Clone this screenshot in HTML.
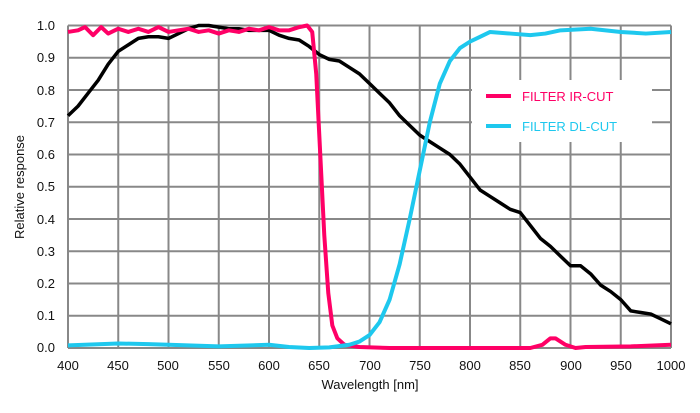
<!DOCTYPE html>
<html><head><meta charset="utf-8"><style>body{margin:0;background:#fff}svg{display:block;font-family:"Liberation Sans",Arial,sans-serif}</style></head><body>
<svg width="700" height="413" viewBox="0 0 700 413">
<rect width="700" height="413" fill="#fff"/>
<g stroke="#888" stroke-width="2" fill="none">
<path d="M68 25.5H671M68 57.75H671M68 90H671M68 122.25H671M68 154.5H671M68 186.75H671M68 219H671M68 251.25H671M68 283.5H671M68 315.75H671M68 348H671"/>
<path d="M68 25.5V348M118.25 25.5V348M168.5 25.5V348M218.75 25.5V348M269 25.5V348M319.25 25.5V348M369.5 25.5V348M419.75 25.5V348M470 25.5V348M520.25 25.5V348M570.5 25.5V348M620.75 25.5V348M671 25.5V348"/>
</g>
<g font-size="13" fill="#111" text-anchor="end">
<text x="55" y="30">1.0</text><text x="55" y="62">0.9</text><text x="55" y="95">0.8</text><text x="55" y="127">0.7</text><text x="55" y="159">0.6</text><text x="55" y="191">0.5</text><text x="55" y="224">0.4</text><text x="55" y="256">0.3</text><text x="55" y="288">0.2</text><text x="55" y="320">0.1</text><text x="55" y="352">0.0</text>
</g>
<g font-size="13" fill="#111" text-anchor="middle">
<text x="68" y="370">400</text><text x="118" y="370">450</text><text x="168" y="370">500</text><text x="219" y="370">550</text><text x="269" y="370">600</text><text x="319" y="370">650</text><text x="370" y="370">700</text><text x="420" y="370">750</text><text x="470" y="370">800</text><text x="520" y="370">850</text><text x="571" y="370">900</text><text x="621" y="370">950</text><text x="671" y="370">1000</text>
</g>
<text x="370" y="389" font-size="13" text-anchor="middle" fill="#111">Wavelength [nm]</text>
<text transform="translate(24 187) rotate(-90)" font-size="13" text-anchor="middle" fill="#111">Relative response</text>
<g transform="matrix(1.005 0 0 -322.5 -334 348)" fill="none" stroke-linejoin="round">
<polyline vector-effect="non-scaling-stroke" stroke="#000" stroke-width="3.5" points="400,.72 410,.75 420,.79 430,.83 440,.88 450,.92 460,.94 470,.96 480,.965 490,.965 500,.96 510,.975 520,.99 530,1 540,1 550,.995 560,.99 570,.99 580,.985 590,.985 600,.985 610,.97 620,.96 630,.955 640,.935 650,.91 660,.895 670,.89 680,.87 690,.85 700,.82 710,.79 720,.76 730,.72 740,.69 750,.66 760,.64 770,.62 780,.6 790,.57 800,.53 810,.49 820,.47 830,.45 840,.43 850,.42 860,.38 870,.34 880,.315 890,.285 900,.255 910,.255 920,.23 930,.195 940,.175 950,.15 960,.115 970,.11 980,.105 990,.09 1000,.075"/>
<polyline vector-effect="non-scaling-stroke" stroke="#ff0066" stroke-width="4" points="400,.98 410,.985 417,.995 425,.97 433,.995 440,.975 450,.99 460,.98 470,.99 480,.98 490,.995 500,.98 510,.985 520,.99 530,.98 540,.985 550,.975 560,.985 570,.98 580,.99 590,.985 600,.995 610,.985 620,.985 630,.995 638,1 643,.98 647,.85 651,.6 655,.35 659,.17 663,.07 668,.03 675,.01 690,.003 720,0 860,0 872,.01 880,.03 885,.03 895,.01 905,0 915,.003 960,.005 1000,.01"/>
<polyline vector-effect="non-scaling-stroke" stroke="#1ec8ee" stroke-width="4" points="400,.008 450,.014 480,.012 500,.01 550,.005 600,.01 620,.003 640,0 660,.002 680,.01 690,.02 700,.04 710,.08 720,.15 730,.26 740,.4 750,.55 760,.7 770,.82 780,.89 790,.93 800,.95 810,.965 820,.98 840,.975 860,.97 875,.975 890,.985 920,.99 950,.98 975,.975 1000,.98"/>
</g>
<rect x="472" y="80" width="180" height="62" fill="#fff"/>
<line x1="486" y1="96" x2="511" y2="96" stroke="#ff0066" stroke-width="4"/>
<line x1="486" y1="126" x2="511" y2="126" stroke="#1ec8ee" stroke-width="4"/>
<text x="522" y="101" font-size="13" fill="#ff0066">FILTER IR-CUT</text>
<text x="522" y="131" font-size="13" fill="#1ec8ee">FILTER DL-CUT</text>
</svg>
</body></html>
